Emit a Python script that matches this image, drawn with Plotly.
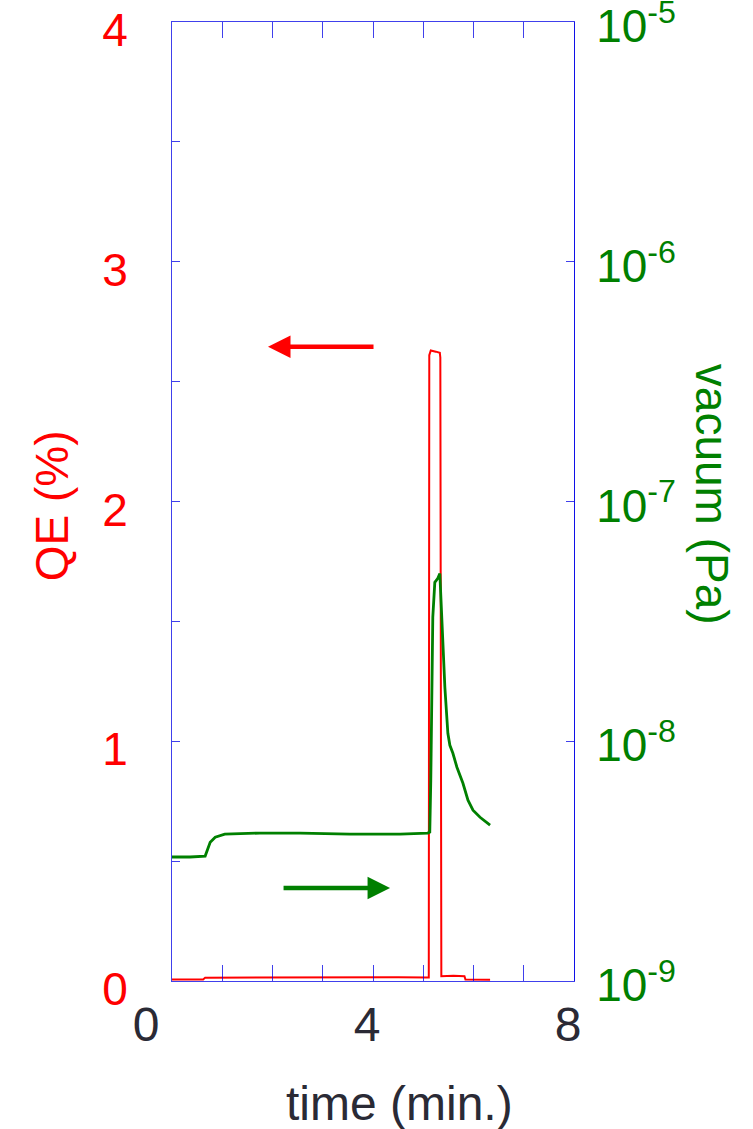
import plotly.graph_objects as go

# Time axis (minutes)
x_ticks = [0, 1, 2, 3, 4, 5, 6, 7, 8]
x_tick_text = ["0\u00a0\u00a0\u00a0", "", "", "", "4", "", "", "", "8"]

# Quantum efficiency (%) vs time
qe_time = [0.0, 0.30, 0.62, 0.66, 1.5, 2.5, 3.5, 4.5, 5.08, 5.11, 5.12, 5.15,
           5.25, 5.33, 5.34, 5.35, 5.36, 5.6, 5.82, 5.84, 6.1, 6.33]
qe_value = [0.006, 0.006, 0.006, 0.014, 0.015, 0.016, 0.015, 0.016, 0.015, 0.015,
            2.61, 2.63, 2.625, 2.62, 2.60, 0.6, 0.02, 0.022, 0.02, 0.006, 0.005, 0.005]
qe_ticks = [0, 0.5, 1, 1.5, 2, 2.5, 3, 3.5, 4]
qe_tick_text = ["0", "", "1", "", "2", "", "3", "", "4"]

# Chamber pressure (Pa) vs time
vac_time = [0.0, 0.36, 0.66, 0.70, 0.76, 0.86, 1.05, 1.75, 2.55, 3.54, 4.54, 5.09,
            5.13, 5.15, 5.17, 5.19, 5.23, 5.29, 5.33, 5.39, 5.43, 5.49, 5.53, 5.59,
            5.67, 5.79, 5.89, 5.99, 6.13, 6.33]
vac_value = [3.29e-9, 3.29e-9, 3.32e-9, 3.52e-9, 3.79e-9, 3.98e-9, 4.10e-9, 4.14e-9,
             4.14e-9, 4.10e-9, 4.10e-9, 4.14e-9, 4.18e-9, 6.88e-9, 2.03e-8, 3.29e-8,
             4.60e-8, 4.78e-8, 5.01e-8, 2.33e-8, 1.68e-8, 1.08e-8, 9.62e-9, 8.91e-9,
             7.79e-9, 6.68e-9, 5.68e-9, 5.16e-9, 4.82e-9, 4.47e-9]
vac_ticks = [1e-9, 1e-8, 1e-7, 1e-6, 1e-5]
vac_tick_text = ["10<sup>-9</sup>", "10<sup>-8</sup>", "10<sup>-7</sup>",
                 "10<sup>-6</sup>", "10<sup>-5</sup>"]

RED = "#ff0000"
GREEN = "#008000"
BLUE = "rgba(0,0,230,0.75)"
DARK = "#2a2a35"
FONT = "Liberation Sans, Arial, sans-serif"

fig = go.Figure()
fig.add_trace(go.Scatter(x=qe_time, y=qe_value, mode="lines",
                         line=dict(color=RED, width=2), yaxis="y",
                         showlegend=False))
fig.add_trace(go.Scatter(x=vac_time, y=vac_value, mode="lines",
                         line=dict(color=GREEN, width=2.8), yaxis="y2",
                         showlegend=False))

fig.update_layout(
    width=753, height=1129, autosize=False,
    margin=dict(l=172, r=179, t=22, b=148),
    plot_bgcolor="white", paper_bgcolor="white",
    font=dict(family=FONT),
    xaxis=dict(range=[0, 8], tickmode="array", tickvals=x_ticks, ticktext=x_tick_text,
               showgrid=False, zeroline=False, showline=True, linecolor=BLUE,
               linewidth=1, mirror="ticks", ticks="inside", ticklen=16,
               tickcolor=BLUE, tickwidth=1,
               tickfont=dict(size=48, color=DARK, family=FONT),
               ticklabelshift=-6, ticklabelstandoff=1,
               ticklabeloverflow="allow", automargin=False),
    yaxis=dict(range=[0, 4], tickmode="array", tickvals=qe_ticks, ticktext=qe_tick_text,
               showgrid=False, zeroline=False, showline=True, linecolor=BLUE,
               linewidth=1, mirror=True, ticks="inside", ticklen=8,
               tickcolor=BLUE, tickwidth=1,
               tickfont=dict(size=46, color=RED, family=FONT),
               ticklabelshift=8, ticklabelstandoff=34,
               ticklabeloverflow="allow", automargin=False),
    yaxis2=dict(type="log", range=[-9, -5], overlaying="y", side="right",
                tickmode="array", tickvals=vac_ticks, ticktext=vac_tick_text,
                showgrid=False, zeroline=False, showline=True, linecolor=BLUE,
                linewidth=1, ticks="inside", ticklen=8, tickcolor=BLUE, tickwidth=1,
                tickfont=dict(size=46, color=GREEN, family=FONT),
                ticklabelshift=4, ticklabelstandoff=12,
                ticklabeloverflow="allow", automargin=False),
    annotations=[
        # direction arrows pointing to each curve's axis
        dict(x=1.91, y=2.645, ax=4.04, ay=2.645, xref="x", yref="y",
             axref="x", ayref="y", text="", showarrow=True, arrowhead=2,
             arrowsize=1, arrowwidth=4.5, arrowcolor=RED),
        dict(x=4.34, y=0.388, ax=2.19, ay=0.388, xref="x", yref="y",
             axref="x", ayref="y", text="", showarrow=True, arrowhead=2,
             arrowsize=1, arrowwidth=4.5, arrowcolor=GREEN),
        # axis titles
        dict(text="QE (%)", x=0, y=0.495, xref="paper", yref="paper",
             xanchor="center", yanchor="middle",
             xshift=-120, textangle=-90, showarrow=False,
             font=dict(size=46, color=RED, family=FONT)),
        dict(text="vacuum (Pa)", x=1, y=0.508, xref="paper", yref="paper",
             xanchor="center", yanchor="middle",
             xshift=138, textangle=90, showarrow=False,
             font=dict(size=46, color=GREEN, family=FONT)),
        dict(text="time (min.)", x=0.567, y=0, xref="paper", yref="paper",
             xanchor="center", yanchor="middle",
             yshift=-122, showarrow=False,
             font=dict(size=48, color=DARK, family=FONT)),
    ],
)

fig.write_html("out.html")
